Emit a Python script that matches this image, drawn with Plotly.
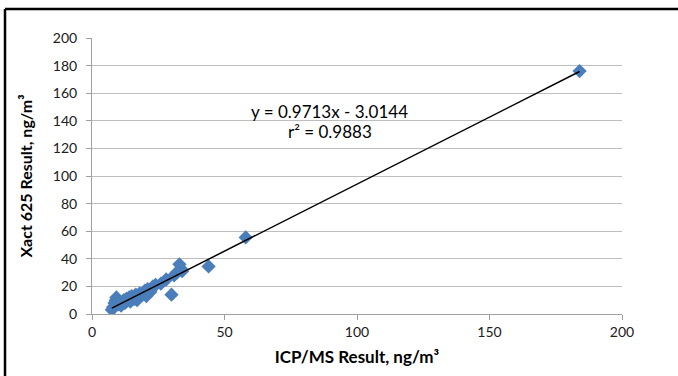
import plotly.graph_objects as go

# Data
icp_ms = [7.5, 8, 8.5, 9, 9.2, 10, 10.5, 11, 12, 12.5, 13, 14, 14.5, 15, 16, 16.5, 17,
          18, 19, 20, 20.5, 21, 22, 23, 24, 26, 28, 30, 31, 32, 33, 33.5, 34, 44, 58, 184]
xact = [3, 5, 8, 10, 12, 7, 9, 6, 10, 8, 11, 12, 9, 13, 11, 14, 10,
        15, 14, 17, 13, 18, 16, 20, 21, 22, 25, 14, 28, 30, 36, 33, 31, 34.5, 55.5, 176]
slope = 0.9713
intercept = -3.0144
fit_x = [min(icp_ms), max(icp_ms)]
fit_y = [slope * v + intercept for v in fit_x]
x_ticks = [0, 50, 100, 150, 200]
y_ticks = [0, 20, 40, 60, 80, 100, 120, 140, 160, 180, 200]

FONT = "Lato"

fig = go.Figure()
fig.add_trace(go.Scatter(
    x=icp_ms, y=xact, mode="markers",
    marker=dict(symbol="diamond", size=11, color="#4A7EBB", line=dict(width=0)),
    showlegend=False))
fig.add_trace(go.Scatter(
    x=fit_x, y=fit_y, mode="lines",
    line=dict(color="black", width=1.5), showlegend=False))

fig.add_annotation(x=89.8, y=146.4, xref="x", yref="y", text="y = 0.9713x - 3.0144",
                   showarrow=False, font=dict(family=FONT, size=17, color="#000000"))
fig.add_annotation(x=89.8, y=132.6, xref="x", yref="y", text="r² = 0.9883",
                   showarrow=False, font=dict(family=FONT, size=17, color="#000000"))

# outer frame (top and left edges)
fig.add_shape(type="line", xref="paper", yref="paper", x0=-87/530, x1=1 + 56/530,
              y0=1 + 29/276, y1=1 + 29/276, line=dict(color="black", width=2.5))
fig.add_shape(type="line", xref="paper", yref="paper", x0=-87/530, x1=-87/530,
              y0=1 + 29/276, y1=-62/276, line=dict(color="black", width=2.5))

fig.update_layout(
    width=678, height=376,
    margin=dict(l=92, r=56, t=38, b=62),
    paper_bgcolor="white", plot_bgcolor="white",
    font=dict(family=FONT, size=14, color="#202020"),
    xaxis=dict(range=[0, 200], tickvals=x_ticks, showgrid=False, zeroline=False,
               showline=True, linecolor="#A0A0A0", linewidth=1,
               ticks="outside", ticklen=5, tickcolor="#A0A0A0",
               tickfont=dict(family=FONT, size=14, color="#202020"),
               title=dict(text="ICP/MS Result, ng/m³", standoff=12,
                          font=dict(family=FONT, size=17, color="#000000", weight="bold"))),
    yaxis=dict(range=[0, 200], tickvals=y_ticks, showgrid=True, gridcolor="#BEBEBE",
               gridwidth=1, zeroline=False, showline=True, linecolor="#A0A0A0", linewidth=1,
               ticks="outside", ticklen=5, tickcolor="#A0A0A0", ticklabelstandoff=6,
               tickfont=dict(family=FONT, size=14, color="#202020"),
               title=dict(text="Xact 625 Result, ng/m³", standoff=16,
                          font=dict(family=FONT, size=16, color="#000000", weight="bold"))),
)

fig.write_html("out.html")
